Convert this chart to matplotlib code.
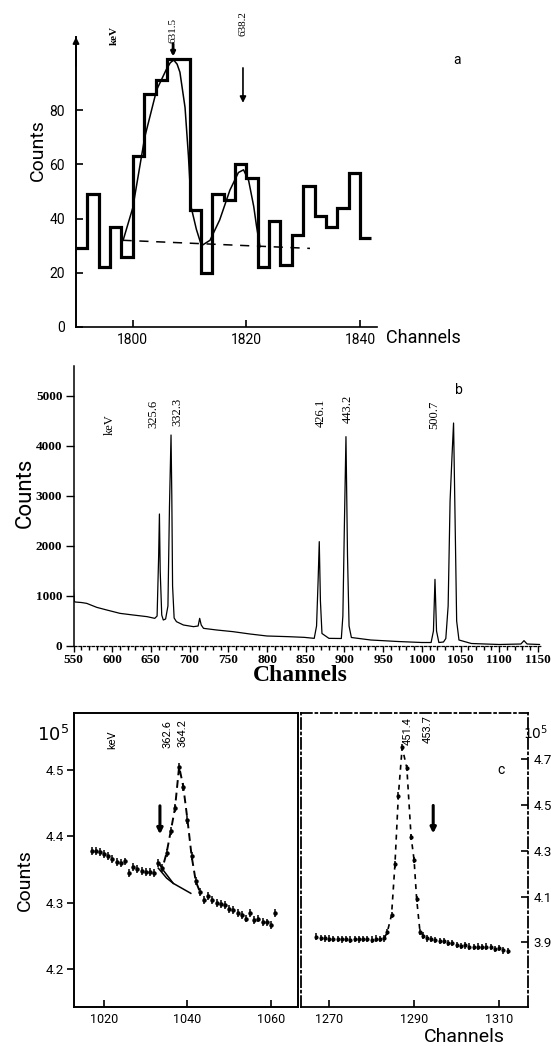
import matplotlib
matplotlib.use('Agg')
import matplotlib.pyplot as plt
from matplotlib.ticker import MultipleLocator

# ---------------- data: panel a (histogram, 2-channel bins) ----------------
a_edges = [1790, 1792, 1794, 1796, 1798, 1800, 1802, 1804, 1806, 1808, 1810,
           1812, 1814, 1816, 1818, 1820, 1822, 1824, 1826, 1828, 1830, 1832,
           1834, 1836, 1838, 1840, 1842]
a_counts = [29, 49, 22, 37, 26, 63, 86, 91, 99, 99, 43, 20, 49, 47, 60, 55,
            22, 39, 23, 34, 52, 41, 37, 44, 57, 33]
a_fit_ch = [1798.3, 1800.0, 1802.1, 1804.2, 1805.9, 1806.6, 1807.2, 1807.8,
            1808.3, 1809.2, 1809.8, 1810.3, 1811.2, 1812.1, 1813.6, 1815.3,
            1817.1, 1818.6, 1819.5, 1820.4, 1821.3, 1821.8, 1822.4]
a_fit_val = [32, 44, 70, 87.5, 95, 97.5, 98.5, 97, 94, 81, 63, 44, 36, 30, 32,
             39.5, 50.5, 57, 58, 54, 44.4, 37, 29.6]
a_bg_ch = [1798.2, 1831.2]
a_bg_val = [32, 29]
a_yticks = [0, 20, 40, 60, 80]
a_xticks = [1800, 1820, 1840]

# ---------------- data: panel b (spectrum) ----------------
b_ch = [550, 551, 552, 560, 567, 580, 593, 610, 627, 645, 655, 658, 660, 661,
        662, 664, 666, 669, 672, 674, 676, 677, 678, 680, 683, 692, 705, 711,
        713, 715, 718, 735, 756, 778, 800, 827, 848, 861, 864, 866, 867.5,
        869, 871, 880, 896, 898, 900, 902, 904, 906, 909, 934, 969, 1000,
        1012, 1015, 1017, 1019, 1022, 1028, 1031, 1034, 1036.5, 1039, 1041,
        1043, 1045, 1048, 1064, 1100, 1128, 1132, 1136, 1152]
b_counts = [1120, 900, 880, 870, 853, 773, 720, 653, 620, 587, 553, 600, 1800,
            2640, 1500, 620, 520, 540, 800, 2800, 4220, 3000, 1200, 560, 487,
            420, 387, 400, 553, 420, 353, 320, 287, 240, 200, 187, 173, 153,
            400, 1300, 2087, 900, 250, 153, 150, 600, 2453, 4187, 1800, 400,
            170, 120, 90, 70, 70, 300, 1333, 300, 70, 80, 150, 800, 2900,
            3800, 4460, 2500, 500, 120, 50, 30, 40, 107, 40, 30]
b_yticks = [0, 1000, 2000, 3000, 4000, 5000]
b_xticks = [550, 600, 650, 700, 750, 800, 850, 900, 950, 1000, 1050, 1100, 1150]

# ---------------- data: panel c ----------------
cL_ch = [1017, 1018, 1019, 1020, 1021, 1022, 1023, 1024, 1025, 1026, 1027,
         1028, 1029, 1030, 1031, 1032, 1033, 1034, 1035, 1036, 1037, 1038,
         1039, 1040, 1041, 1042, 1043, 1044, 1045, 1046, 1047, 1048, 1049,
         1050, 1051, 1052, 1053, 1054, 1055, 1056, 1057, 1058, 1059, 1060, 1061]
cL_val = [4.378, 4.378, 4.376, 4.373, 4.370, 4.366, 4.361, 4.360, 4.362,
          4.344, 4.354, 4.350, 4.347, 4.346, 4.346, 4.345, 4.360, 4.352,
          4.375, 4.408, 4.442, 4.505, 4.475, 4.425, 4.370, 4.332, 4.316,
          4.304, 4.310, 4.304, 4.300, 4.298, 4.297, 4.291, 4.289, 4.285,
          4.282, 4.276, 4.284, 4.274, 4.276, 4.271, 4.270, 4.266, 4.284]
cL_err = 0.006
cL_bg_ch = [1033.0, 1035.0, 1036.6, 1040.8]
cL_bg_val = [4.352, 4.337, 4.329, 4.314]
cL_yticks = [4.2, 4.3, 4.4, 4.5]
cL_xticks = [1020, 1040, 1060]

cR_ch = [1267, 1268, 1269, 1270, 1271, 1272, 1273, 1274, 1275, 1276, 1277,
         1278, 1279, 1280, 1281, 1282, 1283, 1283.7, 1284.7, 1285.5, 1286.3,
         1287.2, 1288.3, 1289.3, 1290.0, 1290.6, 1291.4, 1292.2, 1293, 1294,
         1295, 1296, 1297, 1298, 1299, 1300, 1301, 1302, 1303, 1304, 1305,
         1306, 1307, 1308, 1309, 1310, 1311, 1312]
cR_val = [3.925, 3.920, 3.918, 3.917, 3.916, 3.914, 3.913, 3.915, 3.912,
          3.914, 3.913, 3.915, 3.914, 3.912, 3.917, 3.915, 3.918, 3.945,
          4.020, 4.240, 4.540, 4.750, 4.660, 4.360, 4.260, 4.090, 3.945,
          3.930, 3.918, 3.915, 3.910, 3.906, 3.905, 3.897, 3.897, 3.888,
          3.885, 3.887, 3.882, 3.880, 3.882, 3.879, 3.882, 3.879, 3.872,
          3.875, 3.865, 3.862]
cR_err = 0.014
cR_yticks = [3.9, 4.1, 4.3, 4.5, 4.7]
cR_xticks = [1270, 1290, 1310]

# ---------------- figure ----------------
W, H = 551, 1046
fig = plt.figure(figsize=(W / 100, H / 100), dpi=100)
fig.patch.set_facecolor('white')
SANS = ['Roboto', 'DejaVu Sans']
SERIF = ['Liberation Serif', 'DejaVu Serif']


def rect(l, r, t, b):
    return [l / W, 1 - b / H, (r - l) / W, (b - t) / H]


# ===== panel a =====
axA = fig.add_axes(rect(76, 377, 37, 327))
axA.patch.set_alpha(0)
axA.stairs(a_counts, a_edges, color='black', lw=2.3, baseline=None)
axA.plot(a_fit_ch, a_fit_val, color='black', lw=1.1)
axA.plot(a_bg_ch, a_bg_val, color='black', lw=1.1, ls=(0, (6, 5)))
axA.set_xlim(1790, 1843)
axA.set_ylim(0, 107)
for s in ('top', 'right'):
    axA.spines[s].set_visible(False)
axA.spines['left'].set_linewidth(1.4)
axA.spines['bottom'].set_linewidth(1.2)
axA.set_yticks(a_yticks)
axA.set_xticks(a_xticks)
axA.tick_params(axis='both', direction='in', length=5, width=1.2, labelsize=10)
axA.tick_params(axis='y', pad=8)
axA.tick_params(axis='x', pad=4)
for lab in axA.get_xticklabels() + axA.get_yticklabels():
    lab.set_family(SANS)
axA.annotate('', xy=(0, 1.0), xytext=(0, 0.9), xycoords='axes fraction',
             arrowprops=dict(arrowstyle='-|>', color='black', lw=1.3,
                             mutation_scale=9, shrinkA=0, shrinkB=0))
axA.text(-0.126, 0.61, 'Counts', transform=axA.transAxes, rotation=90,
         ha='center', va='center', fontsize=14, family=SANS)
axA.text(1844.6, -4, 'Channels', ha='left', va='center', fontsize=13,
         family=SANS)
axA.text(1796.8, 107.7, 'keV', rotation=90, ha='center', va='center',
         fontsize=8, fontweight='bold', family=SERIF)
axA.text(1807.1, 109.5, '631.5', rotation=90, ha='center', va='center',
         fontsize=8, family=SERIF)
axA.text(1819.4, 112.0, '638.2', rotation=90, ha='center', va='center',
         fontsize=8, family=SERIF)
axA.annotate('', xy=(1819.4, 82.7), xytext=(1819.4, 95.6),
             arrowprops=dict(arrowstyle='-|>', color='black', lw=1.2,
                             mutation_scale=9, shrinkA=0, shrinkB=0))
axA.annotate('', xy=(1807.1, 99.8), xytext=(1807.1, 104.5),
             arrowprops=dict(arrowstyle='-|>', color='black', lw=2,
                             mutation_scale=6, shrinkA=0, shrinkB=0))
axA.text(1857.1, 98.5, 'a', ha='center', va='center', fontsize=10,
         family=SANS)

# ===== panel b =====
axB = fig.add_axes(rect(73.5, 541.8, 366, 646))
axB.patch.set_alpha(0)
axB.plot(b_ch, b_counts, color='black', lw=0.9)
axB.set_xlim(550, 1155)
axB.set_ylim(0, 5600)
for s in ('top', 'right'):
    axB.spines[s].set_visible(False)
axB.spines['left'].set_linewidth(1.1)
axB.spines['bottom'].set_linewidth(0.9)
axB.spines['bottom'].set_linestyle((0, (2, 1.5)))
axB.set_yticks(b_yticks)
axB.set_xticks(b_xticks)
axB.xaxis.set_minor_locator(MultipleLocator(10))
axB.tick_params(axis='both', which='major', direction='out', length=4,
                width=1.0, labelsize=9.5, pad=2)
axB.tick_params(axis='y', length=6)
axB.tick_params(axis='x', which='minor', direction='out', length=3, width=1.0)
for lab in axB.get_xticklabels() + axB.get_yticklabels():
    lab.set_family(SERIF)
    lab.set_fontweight('bold')
axB.text(-0.1036, 0.546, 'Counts', transform=axB.transAxes, rotation=90,
         ha='center', va='center', fontsize=16, family=SANS)
axB.text(0.484, -0.107, 'Channels', transform=axB.transAxes, ha='center',
         va='center', fontsize=17, fontweight='bold', family=SERIF)
for ch, cnt, txt in [(597, 4420, 'keV'), (652.7, 4640, '325.6'),
                     (683.7, 4680, '332.3'), (869.8, 4660, '426.1'),
                     (904.7, 4740, '443.2'), (1015.8, 4620, '500.7')]:
    axB.text(ch, cnt, txt, rotation=90, ha='center', va='center',
             fontsize=9, family=SERIF)
axB.text(1048, 5120, 'b', ha='center', va='center', fontsize=10,
         family=SANS)

# ===== panel c (left) =====
axL = fig.add_axes(rect(74, 298, 713, 1007))
axL.patch.set_alpha(0)
axL.errorbar(cL_ch, cL_val, yerr=cL_err, fmt='o', ms=2.2, color='black',
             elinewidth=1.1, capsize=0)
axL.plot(cL_ch[16:27], cL_val[16:27], color='black', lw=1.4, ls=(0, (4, 2.5)))
axL.plot(cL_bg_ch, cL_bg_val, color='black', lw=1.1)
axL.plot([cL_ch[17] + 0.3, cL_bg_ch[2]], [cL_val[17] - 0.004, cL_bg_val[2]],
         color='black', lw=1.1)
axL.set_xlim(1012.8, 1066.5)
axL.set_ylim(4.1425, 4.586)
for s in axL.spines.values():
    s.set_linewidth(1.4)
axL.set_yticks(cL_yticks)
axL.set_yticklabels([f'{v:.1f}' for v in cL_yticks])
axL.set_xticks(cL_xticks)
axL.tick_params(axis='y', direction='out', length=5, width=1.2, labelsize=9.5,
                pad=2)
axL.tick_params(axis='x', direction='in', length=5, width=1.2, labelsize=9,
                pad=4)
for lab in axL.get_xticklabels() + axL.get_yticklabels():
    lab.set_family(SANS)
axL.text(-0.219, 0.432, 'Counts', transform=axL.transAxes, rotation=90,
         ha='center', va='center', fontsize=14, family=SANS)
axL.text(1007.8, 4.553, r'$10^5$', ha='center', va='center', fontsize=13)
axL.text(1021.9, 4.545, 'keV', rotation=90, ha='center', va='center',
         fontsize=8, family=SANS)
axL.text(1035.1, 4.554, '362.6', rotation=90, ha='center', va='center',
         fontsize=8, family=SANS)
axL.text(1038.9, 4.556, '364.2', rotation=90, ha='center', va='center',
         fontsize=8, family=SANS)
axL.annotate('', xy=(1033.4, 4.403), xytext=(1033.4, 4.446),
             arrowprops=dict(arrowstyle='-|>', color='black', lw=2.2,
                             mutation_scale=8, shrinkA=0, shrinkB=0))

# ===== panel c (right) =====
axR = fig.add_axes(rect(301, 528, 713, 1007))
axR.patch.set_alpha(0)
axR.errorbar(cR_ch, cR_val, yerr=cR_err, fmt='o', ms=2.0, color='black',
             elinewidth=1.1, capsize=0)
axR.plot(cR_ch[16:28], cR_val[16:28], color='black', lw=1.2, ls=(0, (3, 3)))
axR.set_xlim(1263.4, 1316.8)
axR.set_ylim(3.6185, 4.900)
for name, s in axR.spines.items():
    s.set_linewidth(1.3)
    if name != 'bottom':
        s.set_linestyle((0, (6, 2, 1, 2)))
axR.yaxis.tick_right()
axR.set_yticks(cR_yticks)
axR.set_yticklabels([f'{v:.1f}' for v in cR_yticks])
axR.set_xticks(cR_xticks)
axR.tick_params(axis='y', direction='in', length=5, width=1.2, labelsize=9.5,
                pad=4)
axR.tick_params(axis='x', direction='in', length=5, width=1.2, labelsize=9,
                pad=4)
for lab in axR.get_xticklabels() + axR.get_yticklabels():
    lab.set_family(SANS)
fig.text(548 / W, 1 - 733 / H, r'$10^5$', ha='right', va='center',
         fontsize=10)
axR.text(1288.6, 4.821, '451.4', rotation=90, ha='center', va='center',
         fontsize=8, family=SANS)
axR.text(1293.3, 4.830, '453.7', rotation=90, ha='center', va='center',
         fontsize=8, family=SANS)
axR.text(1310.5, 4.651, 'c', ha='center', va='center', fontsize=10,
         family=SANS)
axR.annotate('', xy=(1294.5, 4.375), xytext=(1294.5, 4.497),
             arrowprops=dict(arrowstyle='-|>', color='black', lw=2.2,
                             mutation_scale=8, shrinkA=0, shrinkB=0))
axR.text(1301.8, 3.488, 'Channels', ha='center', va='center', fontsize=14,
         family=SANS)

fig.savefig('out.png', dpi=100, facecolor='white')
